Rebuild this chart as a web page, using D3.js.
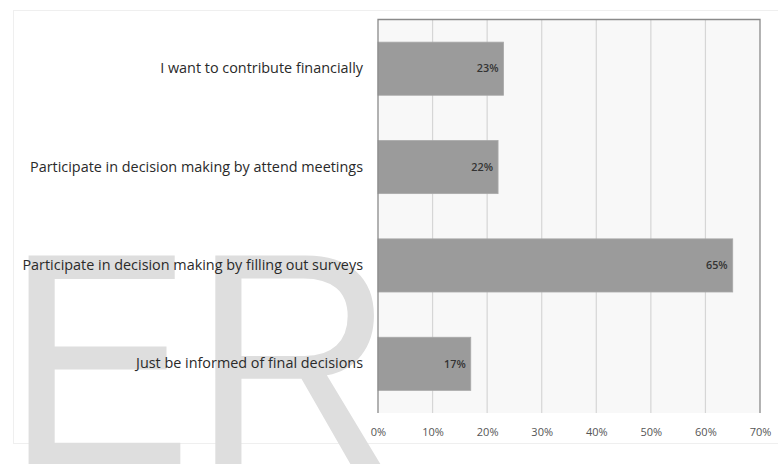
<!DOCTYPE html>
<html>
<head>
<meta charset="utf-8">
<script src="https://cdn.jsdelivr.net/npm/d3@7"></script>
<style>
  html, body { margin: 0; padding: 0; background: #fff; }
  svg { display: block; }
</style>
</head>
<body>
<svg id="chart" width="778" height="464"></svg>
<script>
// Survey responses: preferred way of taking part
const categories = [
  "I want to contribute financially",
  "Participate in decision making by attend meetings",
  "Participate in decision making by filling out surveys",
  "Just be informed of final decisions"
];
const shares = [23, 22, 65, 17];          // percent of respondents
const tickValues = [0, 10, 20, 30, 40, 50, 60, 70];

const svg = d3.select("#chart");
const W = 778, H = 464;
const plot = { left: 378, right: 760, top: 19.5, bottom: 413 };
const labelFont = "'Open Sans', Lato, sans-serif";
const markFont = "'Liberation Sans', Arial, sans-serif";

// Outer chart frame
svg.append("rect")
  .attr("x", 13.5).attr("y", 10.5)
  .attr("width", W - 13).attr("height", 433)
  .attr("fill", "#fff").attr("stroke", "#efefef");

// Watermark lettering, sized from the glyph metrics of the capital E
// so that the first letter fills a fixed box.
(function () {
  const ctx = document.createElement("canvas").getContext("2d");
  ctx.font = `100px ${markFont}`;
  const m = ctx.measureText("E");
  const capRatio = (m.actualBoundingBoxAscent || 71.6) / 100;
  const leftRatio = (m.actualBoundingBoxLeft || -7.7) / 100;
  const rightRatio = (m.actualBoundingBoxRight || 60.4) / 100;
  const capHeight = 211, baseline = 466, glyphLeft = 28, glyphWidth = 154;
  const size = capHeight / capRatio;
  const sx = glyphWidth / ((leftRatio + rightRatio) * size);
  svg.append("text")
    .attr("transform", `translate(${glyphLeft},${baseline}) scale(${sx},1)`)
    .attr("x", leftRatio * size)
    .attr("y", 0)
    .attr("font-family", markFont)
    .attr("font-size", size)
    .attr("fill", "#dedede")
    .text("ER");
})();

const x = d3.scaleLinear().domain([0, 70]).range([plot.left, plot.right]);
const y = d3.scaleBand().domain(categories).range([plot.top, plot.bottom]).paddingInner(0.46).paddingOuter(0.23);

// Plot background
svg.append("rect")
  .attr("x", plot.left).attr("y", plot.top)
  .attr("width", plot.right - plot.left).attr("height", plot.bottom - plot.top)
  .attr("fill", "#f8f8f8");

// Vertical gridlines
svg.append("g")
  .selectAll("line")
  .data(tickValues.slice(1, -1))
  .join("line")
  .attr("x1", d => x(d)).attr("x2", d => x(d))
  .attr("y1", plot.top).attr("y2", plot.bottom)
  .attr("stroke", "#d6d6d6").attr("stroke-width", 1.2);

// Bars
svg.append("g")
  .selectAll("rect")
  .data(shares)
  .join("rect")
  .attr("x", x(0))
  .attr("y", (d, i) => y(categories[i]))
  .attr("width", d => x(d) - x(0))
  .attr("height", y.bandwidth())
  .attr("fill", "#9b9b9b")
  .attr("stroke", "#a9a9a9").attr("stroke-width", 0.8);

// Value labels inside the bar ends
svg.append("g")
  .selectAll("text")
  .data(shares)
  .join("text")
  .attr("x", d => x(d) - 5)
  .attr("y", (d, i) => y(categories[i]) + y.bandwidth() / 2)
  .attr("dy", "0.35em")
  .attr("text-anchor", "end")
  .attr("font-family", labelFont)
  .attr("font-size", 10.8)
  .attr("font-weight", 600)
  .attr("fill", "#333")
  .text(d => d + "%");

// Plot border: top, left axis line and right edge
svg.append("path")
  .attr("d", `M${plot.left},${plot.bottom}V${plot.top}H${plot.right}V${plot.bottom}`)
  .attr("fill", "none").attr("stroke", "#8a8a8a").attr("stroke-width", 1.3);

// Category labels
const yAxis = d3.axisLeft(y).tickSize(0).tickPadding(15);
const gy = svg.append("g").attr("transform", `translate(${plot.left},0)`).call(yAxis);
gy.select(".domain").remove();
gy.selectAll("text")
  .attr("font-family", labelFont)
  .attr("font-size", 14.4)
  .attr("fill", "#2a2a2a");

// Percentage axis
const xAxis = d3.axisBottom(x).tickValues(tickValues).tickFormat(d => d + "%").tickSize(0).tickPadding(15);
const gx = svg.append("g").attr("transform", `translate(0,${plot.bottom})`).call(xAxis);
gx.select(".domain").remove();
gx.selectAll("text")
  .attr("font-family", labelFont)
  .attr("font-size", 11)
  .attr("fill", "#555");
</script>
</body>
</html>
